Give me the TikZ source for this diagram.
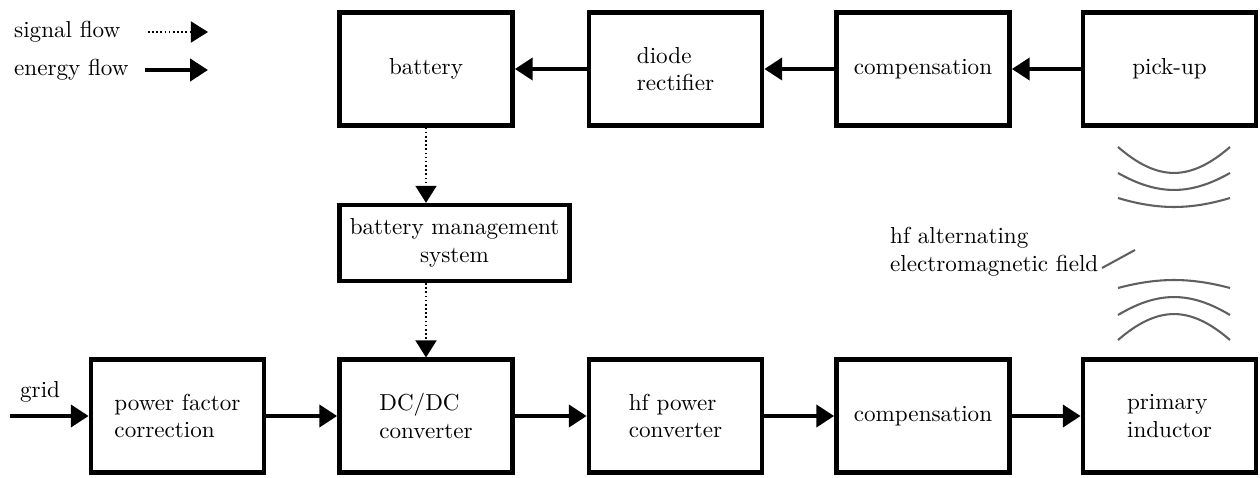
\documentclass[tikz,border=0pt]{standalone}
\usepackage{xcolor}
\usepackage{tikz}
\usetikzlibrary{arrows.meta, positioning, calc}
\definecolor{FieldGray}{RGB}{95, 95, 95}

\tikzset{
  blockbox/.style={draw=black, line width=2pt, minimum width=26.3mm, minimum height=17.1mm, align=left, inner sep=1mm},
  energyarrow/.style={line width=2pt, -{Triangle[length=2.7mm, width=3.3mm]}},
  signalarrow/.style={line width=0.8pt, dash pattern=on 0.7pt off 1.1pt, -{Triangle[length=2.6mm, width=3.2mm]}},
  fieldline/.style={FieldGray, line width=0.9pt}
}

\begin{document}
\begin{tikzpicture}[x=0.152mm,y=0.152mm]
  \path[use as bounding box] (0,0) rectangle (1260,477);

  % legend
  \node[anchor=west] (siglbl) at (6,445) {signal flow};
  \node[anchor=west] (enlbl) at (6,407) {energy flow};
  \coordinate (sigA) at (148,445);
  \coordinate (sigB) at (208,445);
  \coordinate (enA) at (145,407);
  \coordinate (enB) at (208,407);
  \draw[signalarrow] (sigA) -- (sigB);
  \draw[energyarrow] (enA) -- (enB);

  % receiving side
  \node[blockbox] (battery) at (426,408) {battery};
  \node[blockbox] (rectifier) at (675.5,408) {diode\\rectifier};
  \node[blockbox] (seccomp) at (923,408) {compensation};
  \node[blockbox] (pickup) at (1169.5,408) {pick-up};
  \node[blockbox, align=center, minimum width=35mm, minimum height=11.5mm] (bms) at (454.5,234) {battery management\\system};

  % sending side
  \node[blockbox] (pfc) at (177.5,61) {power factor\\correction};
  \node[blockbox] (dcdc) at (426,61) {DC/DC\\converter};
  \node[blockbox] (hfconv) at (675.5,61) {hf power\\converter};
  \node[blockbox] (primcomp) at (923,61) {compensation};
  \node[blockbox] (primary) at (1169.5,61) {primary\\inductor};

  \node[anchor=west] (gridlbl) at (12,85) {grid};
  \coordinate (gridin) at (10,61);

  % energy flow
  \draw[energyarrow] (gridin) -- (pfc.west);
  \draw[energyarrow] (pfc) -- (dcdc);
  \draw[energyarrow] (dcdc) -- (hfconv);
  \draw[energyarrow] (hfconv) -- (primcomp);
  \draw[energyarrow] (primcomp) -- (primary);
  \draw[energyarrow] (pickup) -- (seccomp);
  \draw[energyarrow] (seccomp) -- (rectifier);
  \draw[energyarrow] (rectifier) -- (battery);

  % signal flow
  \draw[signalarrow] (battery.south) -- (battery.south |- bms.north);
  \draw[signalarrow] (battery.south |- bms.south) -- (dcdc.north);

  % field lines
  \foreach \y/\d in {330/-26, 304/-17, 279/-9, 189/8, 162/18, 137/26}{
    \draw[fieldline] (1118,\y) .. controls (1158,{\y+1.33*\d}) and (1190,{\y+1.33*\d}) .. (1230,\y);
  }
  \node[anchor=west, align=left] (fieldlbl) at (882,225) {hf alternating\\electromagnetic field};
  \coordinate (fieldA) at (1102,209);
  \coordinate (fieldB) at (1135,227);
  \draw[fieldline] (fieldA) -- (fieldB);
\end{tikzpicture}
\end{document}
